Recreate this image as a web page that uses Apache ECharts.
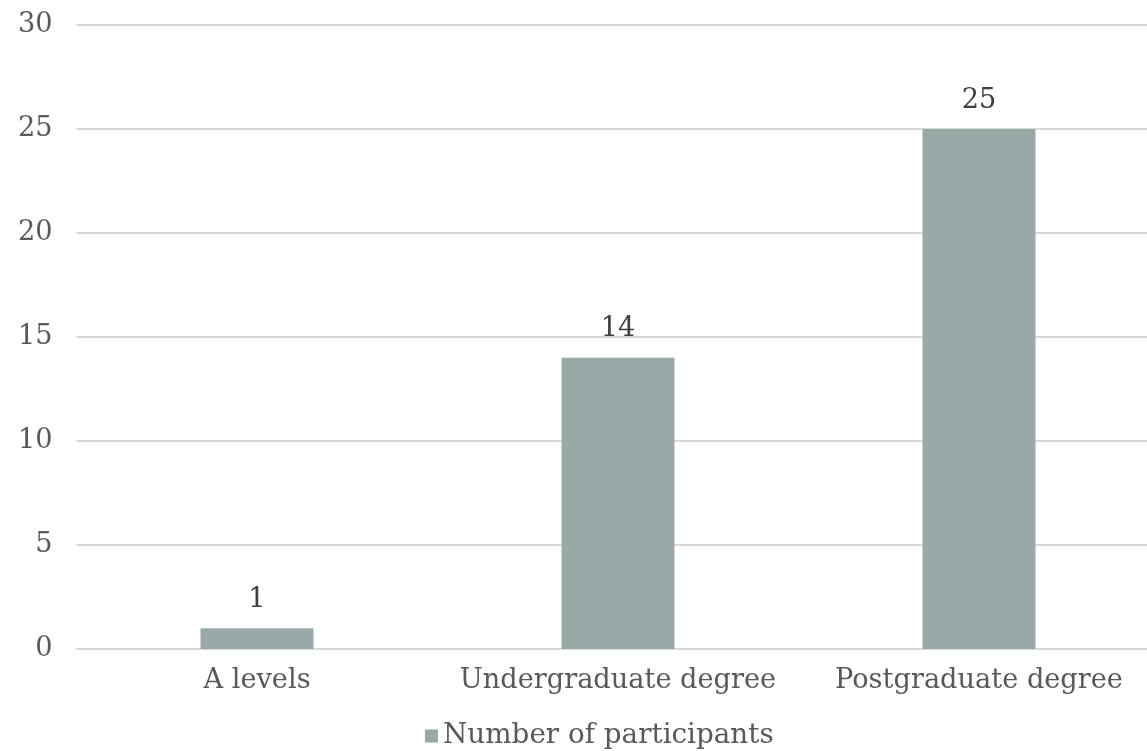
<!DOCTYPE html>
<html><head><meta charset="utf-8">
<script src="https://cdn.jsdelivr.net/npm/echarts@6/dist/echarts.min.js"></script>
<style>html,body{margin:0;padding:0;background:#fff}#c{width:1147px;height:751px}</style>
</head><body><div id="c"></div>
<script>
const categories = ["A levels", "Undergraduate degree", "Postgraduate degree"];
const participants = [1, 14, 25];
const seriesName = "Number of participants";
const FONT = "DejaVu Serif";
const chart = echarts.init(document.getElementById('c'), null, {renderer: 'canvas'});
chart.setOption({
  animation: false,
  backgroundColor: '#fff',
  grid: {left: 76.5, width: 1083, top: 25, bottom: 102, containLabel: false, outerBoundsMode: 'none'},
  legend: {
    top: 722, left: 425, itemWidth: 13, itemHeight: 13, itemGap: 6, padding: 0,
    icon: 'rect',
    textStyle: {fontFamily: FONT, fontSize: 27.8, color: '#595959'},
    data: [seriesName]
  },
  xAxis: {
    type: 'category', data: categories,
    axisLine: {show: true, lineStyle: {color: '#d9d9d9', width: 2}},
    axisTick: {show: false},
    axisLabel: {interval: 0, hideOverlap: false, fontFamily: FONT, fontSize: 27.2, color: '#595959', margin: 18}
  },
  yAxis: {
    type: 'value', min: 0, max: 30, interval: 5,
    axisLine: {show: false}, axisTick: {show: false},
    splitLine: {lineStyle: {color: '#d9d9d9', width: 2}},
    axisLabel: {fontFamily: FONT, fontSize: 27.2, color: '#595959', margin: 24}
  },
  series: [{
    name: seriesName, type: 'bar', data: participants, barWidth: 113,
    itemStyle: {color: '#97aaa8'},
    label: {show: true, position: 'top', distance: 15, fontFamily: FONT, fontSize: 27.2, color: '#404040'}
  }]
});
</script></body></html>
